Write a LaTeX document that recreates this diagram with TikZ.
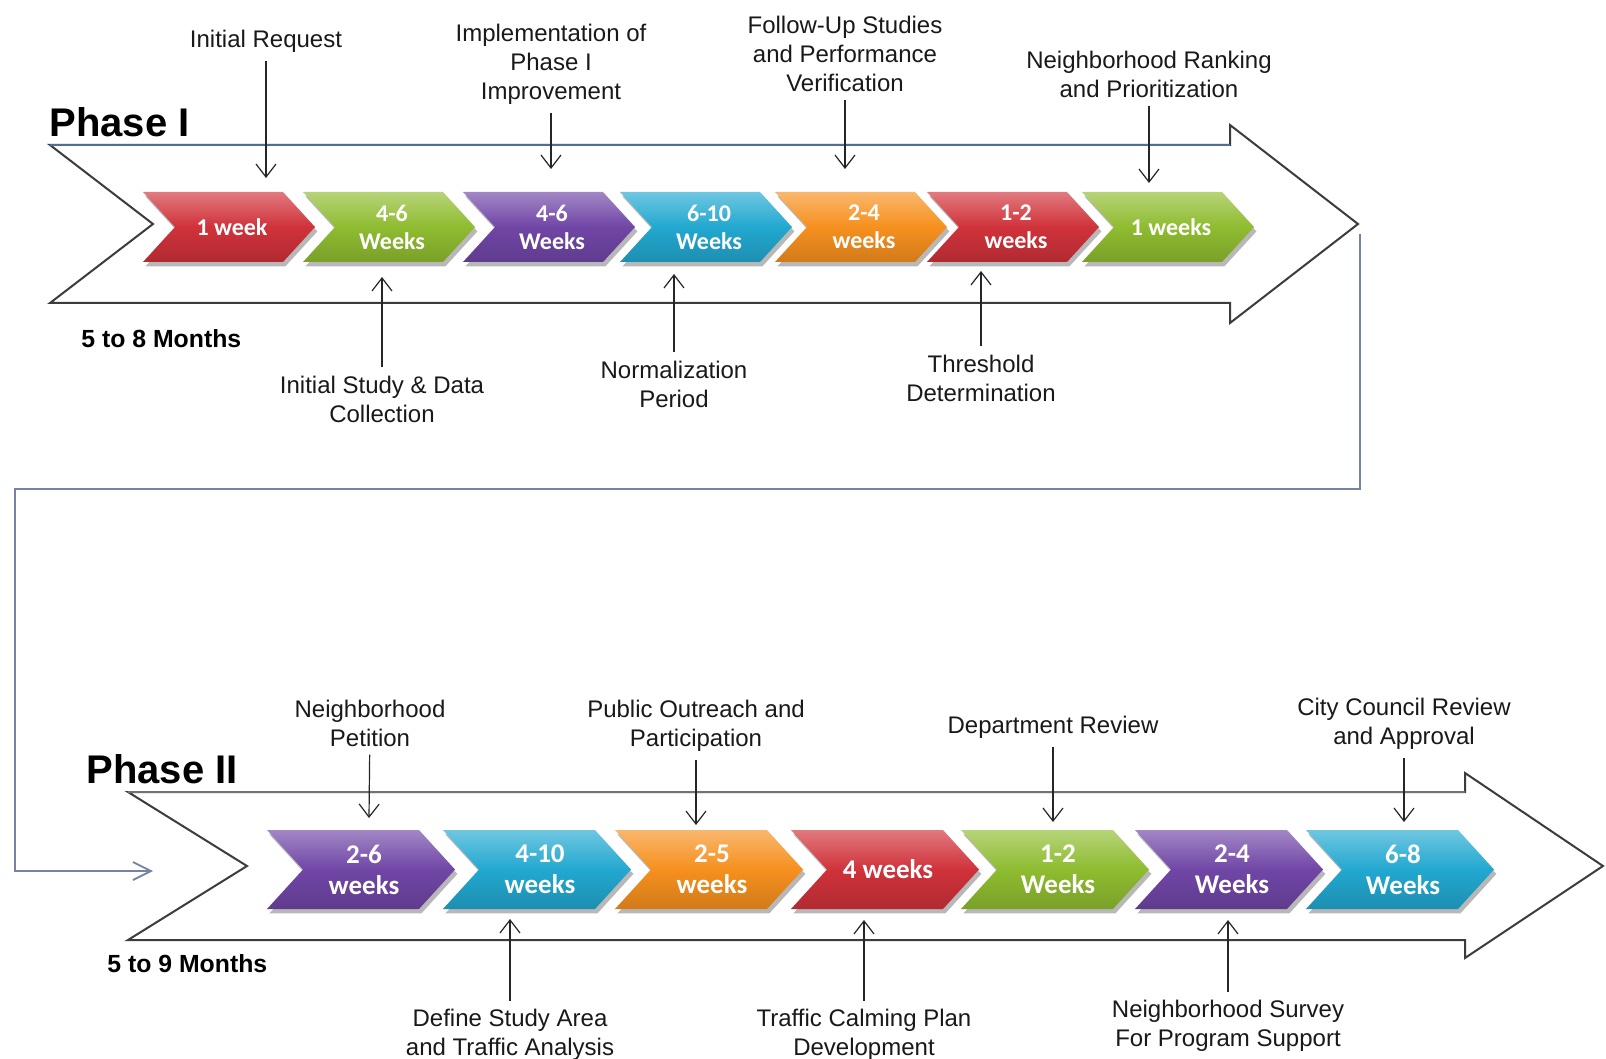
\documentclass[tikz,border=0pt]{standalone}
\usepackage{fontspec}
\setmainfont{Liberation Sans}
\newfontfamily\chevfont{Carlito}
\usetikzlibrary{arrows.meta,shadows}

\definecolor{cred}{HTML}{D0323A}
\definecolor{cgreen}{HTML}{8FBC30}
\definecolor{cpurple}{HTML}{7046A6}
\definecolor{ccyan}{HTML}{22A8D0}
\definecolor{corange}{HTML}{F6901E}
\definecolor{outline}{HTML}{3C3C3C}
\definecolor{topedge}{HTML}{4F7096}
\definecolor{linkline}{HTML}{7484A2}

% One chevron of a timeline row: #1 name, #2 left x, #3 colour, #4 text.
% The row geometry comes from \rowtop, \rowbot, \roww, \rowdep, \rowfont.
\newcommand\chevron[4]{%
  \path[chevbody, top color=#3!65!white, bottom color=#3!85!black, middle color=#3]
    (#2,\rowtop) -- ({#2+\roww-\rowdep},\rowtop)
    -- ({#2+\roww},{(\rowtop+\rowbot)/2})
    -- ({#2+\roww-\rowdep},\rowbot) -- (#2,\rowbot)
    -- ({#2+\rowdep},{(\rowtop+\rowbot)/2}) -- cycle;
  \node[chevtext, font=\rowfont] (#1) at ({#2+\roww/2+3},{(\rowtop+\rowbot)/2}) {#4};}

\begin{document}
\begin{tikzpicture}[x=0.5pt,y=-0.5pt,
  bigarrow/.style={draw=outline, line width=1pt, fill=white, line join=miter},
  chevbody/.style={drop shadow={shadow xshift=1.2pt, shadow yshift=-2.2pt, opacity=0.28, fill=black}},
  chevtext/.style={text=white, align=center, inner sep=0pt},
  lab/.style={font=\fontsize{12}{14.5}\selectfont, align=center, inner sep=4pt, text=black!90},
  phase/.style={font=\fontsize{20}{24}\selectfont\bfseries, inner sep=0pt, anchor=base west},
  span/.style={font=\fontsize{12.4}{15}\selectfont\bfseries, inner sep=0pt, anchor=base west},
  pointer/.style={draw=black!85, line width=0.6pt, -{Straight Barb[length=6.5pt,width=10pt]}},
  link/.style={draw=linkline, line width=0.9pt, -{Straight Barb[length=9pt,width=9pt]}}]

% canvas
\fill[white] (0,0) rectangle (1606,1059);
\useasboundingbox (0,0) rectangle (1606,1059);

% ---------------- Phase I ----------------
\path[bigarrow] (50,145) -- (1230,145) -- (1230,125) -- (1358,224) -- (1230,323)
  -- (1230,303) -- (50,303) -- (153,224) -- cycle;
\draw[topedge, line width=1pt] (50,145) -- (1230,145);

\node[phase] (ph1) at (49,137) {Phase I};
\node[span] (m1) at (81,347) {5 to 8 Months};

\def\rowtop{192}\def\rowbot{262}\def\roww{172}\def\rowdep{32}
\def\rowfont{\chevfont\bfseries\fontsize{12}{14}\selectfont}
\chevron{a1}{143}{cred}{1 week}
\chevron{a2}{303}{cgreen}{4-6\\Weeks}
\chevron{a3}{463}{cpurple}{4-6\\Weeks}
\chevron{a4}{620}{ccyan}{6-10\\Weeks}
\chevron{a5}{775}{corange}{2-4\\weeks}
\chevron{a6}{927}{cred}{1-2\\weeks}
\chevron{a7}{1082}{cgreen}{1 weeks}

% milestones above and below the Phase I row
\node[lab] (l1) at (266,41) {Initial Request};
\node[lab] (l2) at (551,64) {Implementation of\\Phase I\\Improvement};
\node[lab] (l3) at (845,54) {Follow-Up Studies\\and Performance\\Verification};
\node[lab] (l4) at (1149,74) {Neighborhood Ranking\\and Prioritization};
\node[lab] (l5) at (382,399) {Initial Study \& Data\\Collection};
\node[lab] (l6) at (674,384) {Normalization\\Period};
\node[lab] (l7) at (981,378) {Threshold\\Determination};

\coordinate (t1) at (266,178);
\coordinate (t2) at (551,169);
\coordinate (t3) at (845,169);
\coordinate (t4) at (1149,183);
\coordinate (t5) at (382,277);
\coordinate (t6) at (674,274);
\coordinate (t7) at (981,271);
\foreach \i in {1,...,7} \draw[pointer] (l\i) -- (t\i);

% ---------------- link from Phase I to Phase II ----------------
\coordinate (k0) at (1360,234);
\coordinate (k1) at (1360,489);
\coordinate (k2) at (15,489);
\coordinate (k3) at (15,871);
\coordinate (k4) at (153,871);
\draw[link] (k0) -- (k1) -- (k2) -- (k3) -- (k4);

% ---------------- Phase II ----------------
\path[bigarrow] (128,792) -- (1465,792) -- (1465,773) -- (1603,866) -- (1465,958)
  -- (1465,940) -- (128,940) -- (247,866) -- cycle;
\draw[black!55, line width=1pt] (128,792) -- (1465,792);

\node[phase] (ph2) at (86,783) {Phase II};
\node[span] (m2) at (107,972) {5 to 9 Months};

\def\rowtop{830}\def\rowbot{909}\def\roww{188}\def\rowdep{36}
\def\rowfont{\chevfont\bfseries\fontsize{13.5}{15.5}\selectfont}
\chevron{b1}{267}{cpurple}{2-6\\weeks}
\chevron{b2}{443}{ccyan}{4-10\\weeks}
\chevron{b3}{615}{corange}{2-5\\weeks}
\chevron{b4}{791}{cred}{4 weeks}
\chevron{b5}{961}{cgreen}{1-2\\Weeks}
\chevron{b6}{1135}{cpurple}{2-4\\Weeks}
\chevron{b7}{1306}{ccyan}{6-8\\Weeks}

% milestones above and below the Phase II row
\node[lab] (n1) at (370,723) {Neighborhood\\Petition};
\node[lab] (n2) at (696,726) {Public Outreach and\\Participation};
\node[lab] (n3) at (1053,727) {Department Review};
\node[lab] (n4) at (1404,724) {City Council Review\\and Approval};
\node[lab] (n5) at (510,1035) {Define Study Area\\and Traffic Analysis};
\node[lab] (n6) at (864,1035) {Traffic Calming Plan\\Development};
\node[lab] (n7) at (1228,1026) {Neighborhood Survey\\For Program Support};

\coordinate (u1) at (369,818);
\coordinate (u2) at (696,825);
\coordinate (u3) at (1053,822);
\coordinate (u4) at (1404,822);
\coordinate (u5) at (510,919);
\coordinate (u6) at (864,920);
\coordinate (u7) at (1228,920);
\foreach \i in {1,...,7} \draw[pointer] (n\i) -- (u\i);

\end{tikzpicture}
\end{document}
